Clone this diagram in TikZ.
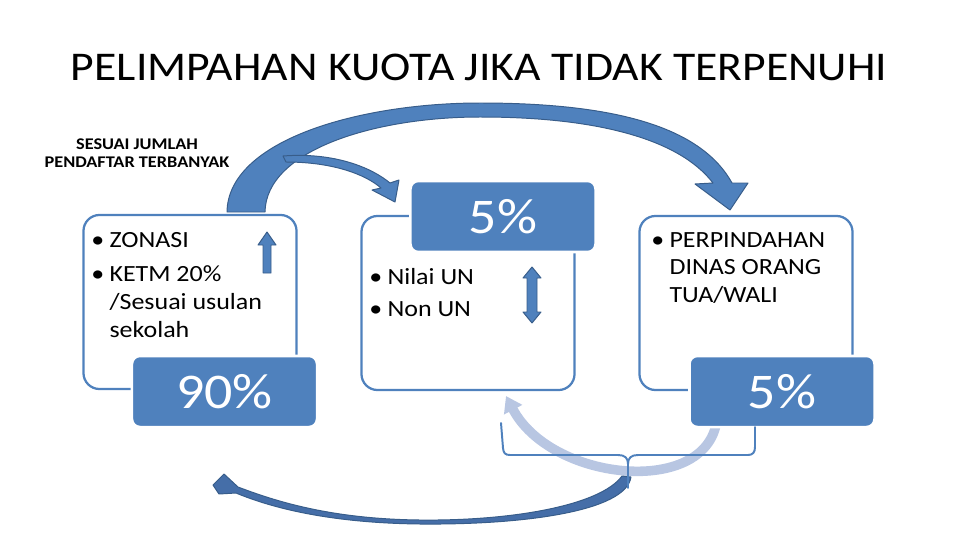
\documentclass[tikz,border=0pt]{standalone}
\usepackage{fontspec}
\setmainfont{Carlito}[FakeStretch=1.12]
\usepackage{tikz}
\usetikzlibrary{arrows.meta}
\definecolor{bluebox}{rgb}{0.31,0.506,0.741}
\definecolor{blueedge}{rgb}{0.22,0.365,0.541}
\definecolor{bluelight}{rgb}{0.72,0.776,0.886}
\definecolor{bluedark}{rgb}{0.27,0.43,0.66}
\tikzset{
  outbox/.style={draw=bluebox, line width=1.6pt, rounded corners=0.4cm, minimum width=5.325cm, minimum height=4.35cm, inner sep=0pt},
  pctbox/.style={fill=bluebox, draw=white, line width=1.8pt, rounded corners=0.2cm, minimum width=4.625cm, minimum height=1.775cm, text=white, font=\fontsize{35.5}{42}\selectfont},
  bodytext/.style={anchor=base west, inner sep=0pt, font=\fontsize{16.5}{19.8}\selectfont},
  blockarrow/.style={fill=bluebox, draw=blueedge, line width=0.7pt, line join=round}
}
\newcommand{\bul}{\makebox[13pt][l]{\textbullet}}
\newcommand{\bulind}{\hspace*{13pt}}

\begin{document}
\begin{tikzpicture}[line cap=round,line join=round,x=0.025cm,y=-0.025cm]
            \useasboundingbox (0,0) rectangle (960,540);
            \node[anchor=base, inner sep=0pt, font=\fontsize{29}{35}\selectfont] (judul) at (479,80) {PELIMPAHAN KUOTA JIKA TIDAK TERPENUHI};
            \node[anchor=base, inner sep=0pt, font=\bfseries\fontsize{11.6}{13.5}\selectfont] (sesuai) at (137,149) {\parbox[t]{5cm}{\centering SESUAI JUMLAH\\PENDAFTAR TERBANYAK}};
            \node[outbox] (zonasiBox) at (190,302) {};
            \node[outbox] (prestasiBox) at (468,303) {};
            \node[outbox] (pindahBox) at (746,303) {};
            \draw [bluelight, line width=6.8pt, line cap=butt, -{Triangle[width=14pt,length=11pt]}] (716,425) .. controls (700,497) and (550,480) .. (506,396);
            \filldraw[blockarrow] (227,212) .. controls (228,140) and (360,103) .. (480,103) .. controls (610,103) and (700,125) .. (732,183) -- (748,183) -- (730,210) -- (695,184) -- (713,183) .. controls (680,140) and (600,117) .. (480,117) .. controls (375,117) and (266,150) .. (265,212) -- cycle;
            \filldraw[blockarrow] (283,156) .. controls (335,152) and (372,168) .. (390,183) -- (399,180) -- (395,202) -- (372,190) -- (381,188) .. controls (365,174) and (332,162) .. (286,162) -- cycle;
            \filldraw[fill=bluedark, draw=blueedge, line width=0.7pt] (622,476) -- (631,477) .. controls (626,512) and (520,525) .. (420,524) .. controls (330,523) and (272,508) .. (236,493) -- (219,494) -- (213,485) -- (224,474) -- (238,487) .. controls (275,501) and (330,519) .. (420,520) .. controls (510,521) and (600,506) .. (622,476) -- cycle;
            \node[pctbox] (zonasiPct) at (224.5,391.5) {90\%};
            \node[pctbox] (prestasiPct) at (503,216.5) {5\%};
            \node[pctbox] (pindahPct) at (782,391.5) {5\%};
            \draw [bluebox, line width=1.4pt] (501,423) -- (503,448) .. controls (503.5,453) and (505,455) .. (510,455) -- (618,455) .. controls (625,455) and (628,458) .. (628,464) -- (628,488);
            \draw [bluebox, line width=1.4pt] (628,464) .. controls (628,458) and (631,455) .. (638,455) -- (748,455) .. controls (753,455) and (755,452) .. (755,447) -- (755,427);
            \node[bodytext] (zonasiText) at (91,247) {\parbox[t]{6cm}{\bul ZONASI\\[5pt]\bul KETM 20\%\\\bulind/Sesuai usulan\\\bulind sekolah}};
            \node[bodytext] (prestasiText) at (369,284) {\parbox[t]{6cm}{\bul Nilai UN\\[3.5pt]\bul Non UN}};
            \node[bodytext] (pindahText) at (651,247) {\parbox[t]{6cm}{\bul PERPINDAHAN\\\bulind DINAS ORANG\\\bulind TUA/WALI}};
            \filldraw[blockarrow] (263,273) -- (263,245) -- (258,245) -- (267,232) -- (276,245) -- (271,245) -- (271,273) -- cycle;
            \filldraw[blockarrow] (527,278) -- (523,278) -- (532,267) -- (541,278) -- (537,278) -- (537,312) -- (541,312) -- (532,323) -- (523,312) -- (527,312) -- cycle;
\end{tikzpicture}
\end{document}
